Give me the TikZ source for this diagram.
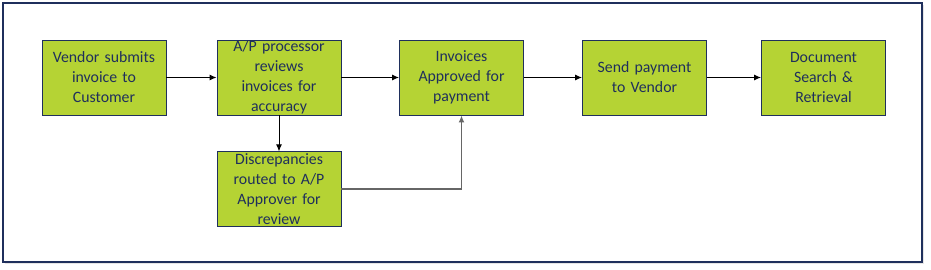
\documentclass[tikz,border=0pt]{standalone}
\usepackage{fontspec}
\setmainfont{Carlito}
\usetikzlibrary{arrows.meta,positioning,shadows}

\definecolor{navy}{HTML}{1F2F5C}
\definecolor{lime}{HTML}{B5D334}

\begin{document}
\begin{tikzpicture}[
  x=1pt, y=1pt, >={Latex[length=7pt,width=6pt]},
  stepbox/.style={draw=navy, fill=lime, line width=0.9pt, align=center,
                  text=navy, font=\fontsize{15.8}{20}\selectfont,
                  minimum width=124pt, minimum height=75pt, text width=122pt,
                  inner sep=0pt},
  flow/.style={->, line width=1pt, black},
  back/.style={->, line width=1.8pt, black!60}
]
\useasboundingbox (0,0) rectangle (931,270);
% frame
\draw[line width=2pt, draw=navy, fill=white,
      drop shadow={shadow xshift=2pt, shadow yshift=-2pt, fill=black!20}]
  (3,8) rectangle (922,267);

\node[stepbox] (submit) at (104,192.5) {Vendor submits\\invoice to\\Customer};
\node[stepbox] (review) at (279,192.5) {A/P processor\\reviews\\invoices for\\accuracy};
\node[stepbox] (approved) at (461.5,192.5) {Invoices\\Approved for\\payment};
\node[stepbox] (pay) at (644.5,192.5) {Send payment\\to Vendor};
\node[stepbox] (search) at (823.5,192.5) {Document\\Search \&\\Retrieval};
\node[stepbox, below=36pt of review] (discrep) {Discrepancies\\routed to A/P\\Approver for\\review};

\draw[flow] (submit) -- (review);
\draw[flow] (review) -- (approved);
\draw[flow] (approved) -- (pay);
\draw[flow] (pay) -- (search);
\draw[flow] (review) -- (discrep);
\draw[back] (discrep.east) -| (approved.south);
\end{tikzpicture}
\end{document}
